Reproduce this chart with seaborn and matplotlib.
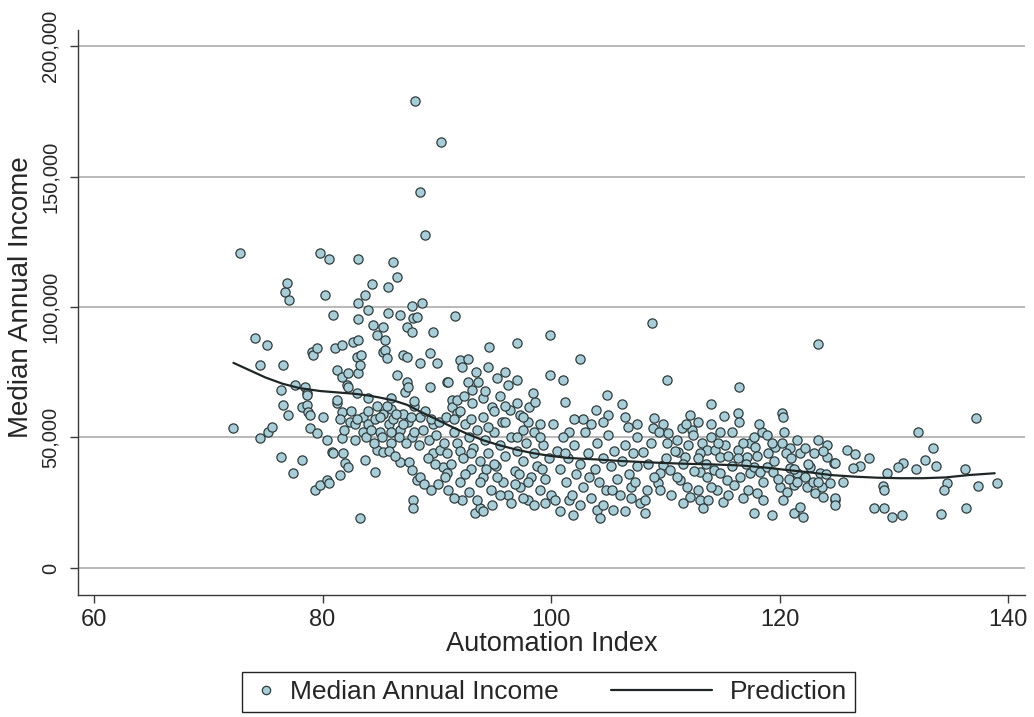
import matplotlib
matplotlib.use("Agg")
import matplotlib.pyplot as plt
from matplotlib.lines import Line2D
from matplotlib.legend_handler import HandlerLine2D
from matplotlib.ticker import FuncFormatter
import pandas as pd
import seaborn as sns

# automation index and median annual income (in $1,000), by x band
idx_72_81 = [72.2, 72.8, 74.1, 74.5, 74.5, 75.1, 75.2, 75.6, 76.4, 76.4,
             76.5, 76.5, 76.7, 76.9, 77.1, 77.0, 77.4, 77.6, 78.2, 78.2,
             78.5, 78.6, 78.6, 78.6, 78.7, 78.9, 78.9, 79.1, 79.2, 79.3,
             79.5, 79.5, 79.8, 79.8, 80.0, 80.2, 80.4, 80.4, 80.6, 80.6,
             80.8, 80.9, 80.9]
inc_72_81 = [53.7, 120.8, 88.2, 77.8, 49.8, 85.5, 52.1, 54.1, 42.6, 68.3,
             77.8, 62.5, 105.8, 109.3, 102.8, 58.7, 36.4, 70.2, 61.7, 41.4,
             69.4, 67.1, 66.3, 62.5, 59.8, 58.7, 53.7, 82.8, 81.7, 29.9,
             84.4, 51.8, 120.8, 31.8, 57.9, 104.7, 49.1, 33.7, 118.5, 32.6,
             44.5, 97.0, 44.1]

idx_81_91 = [81.1, 81.3, 81.3, 81.3, 81.5, 81.7, 81.7, 81.7, 81.7, 81.8,
             82.0, 82.1, 82.2, 82.2, 82.2, 82.4, 82.7, 82.8, 82.8, 83.0,
             83.1, 83.1, 83.1, 83.1, 83.1, 83.3, 83.3, 83.4, 83.5, 83.5,
             83.7, 83.7, 84.0, 84.0, 84.0, 84.3, 84.4, 84.6, 84.6, 84.8,
             84.8, 84.8, 85.0, 85.3, 85.3, 85.3, 85.3, 85.5, 85.5, 85.6,
             85.7, 85.7, 85.8, 86.0, 86.0, 86.2, 86.2, 86.5, 86.5, 86.8,
             86.8, 86.8, 87.0, 87.0, 87.2, 87.4, 87.4, 87.4, 87.5, 87.5,
             87.6, 87.8, 87.8, 87.8, 87.8, 87.9, 87.9, 87.9, 88.0, 88.1,
             88.3, 88.3, 88.5, 88.5, 88.5, 88.5, 88.7, 89.0, 89.4, 89.4,
             89.7, 89.7, 89.7, 90.0, 90.3, 90.4, 90.5, 90.9, 90.9, 90.9,
             82.5, 83.0, 83.8, 84.2, 84.5, 85.0, 85.2, 85.6, 86.0, 86.4,
             86.7, 87.0, 87.3, 87.7, 88.0, 88.4, 88.8, 89.0, 89.3, 89.5,
             89.9, 90.2, 90.6, 84.0, 86.0, 88.0, 83.0, 81.9, 81.5, 85.8,
             86.3, 89.2, 89.8, 88.9, 89.5, 90.1, 90.7]
inc_81_91 = [84.4, 75.9, 63.3, 64.4, 35.7, 85.5, 73.2, 59.8, 49.8, 44.1,
             40.3, 70.2, 74.8, 69.4, 38.7, 56.0, 86.7, 49.1, 55.0, 80.9,
             87.4, 118.5, 101.6, 95.5, 74.8, 77.8, 19.2, 81.7, 58.0, 52.0,
             104.7, 41.4, 98.9, 60.0, 55.0, 108.9, 93.2, 36.8, 57.0, 89.3,
             45.2, 62.0, 52.0, 92.4, 82.8, 44.5, 59.0, 87.4, 83.6, 80.5,
             107.7, 97.8, 55.0, 61.0, 48.0, 117.3, 57.0, 111.6, 74.0, 97.0,
             40.6, 53.0, 81.7, 59.0, 67.5, 92.4, 80.9, 71.3, 69.4, 56.0,
             40.6, 100.5, 90.5, 37.6, 50.0, 95.9, 26.1, 23.0, 62.0, 179.0,
             96.2, 33.7, 78.6, 34.9, 58.0, 144.2, 101.6, 127.7, 82.4, 69.4,
             90.5, 44.1, 55.0, 78.6, 45.2, 163.3, 38.7, 71.3, 44.1, 36.4,
             60, 57, 50, 53, 48, 58, 50, 62, 52, 59,
             50, 55, 48, 58, 52, 47, 53, 60, 49, 57,
             51, 56, 48, 65, 65, 64, 67, 53, 57, 45,
             43, 42, 40, 32, 30, 32, 35]

idx_91_100 = [91.0, 91.3, 91.3, 91.6, 91.8, 91.8, 92.0, 92.2, 92.7, 92.7,
              93.1, 93.1, 93.6, 94.0, 94.5, 94.6, 94.8, 95.3, 95.7, 96.2,
              96.4, 97.0, 97.0, 97.3, 98.1, 98.6, 99.9, 99.9, 92.2, 93.3,
              93.8, 91.5, 91.8, 92.0, 92.3, 92.5, 92.8, 93.0, 93.2, 93.5,
              93.8, 94.0, 94.2, 94.5, 94.7, 95.0, 95.2, 95.5, 95.8, 96.0,
              96.2, 96.5, 96.8, 97.0, 97.3, 97.5, 97.8, 98.0, 98.2, 98.5,
              98.8, 99.0, 99.3, 99.5, 99.8, 100.0, 91.0, 91.5, 92.0, 92.8,
              93.5, 94.0, 94.8, 95.5, 96.5, 97.5, 98.5, 99.5, 92.5, 93.0,
              94.5, 96.0, 97.5, 98.5, 99.0, 95.0, 96.8, 97.2, 98.0, 99.2,
              91.2, 93.8, 94.3, 95.3, 90.8, 91.5, 92.0, 93.0, 94.0, 95.0,
              96.0, 97.0, 98.0, 99.0, 97.0, 95.5, 93.4, 92.4, 94.2, 96.0,
              97.5, 98.4]
inc_91_100 = [71.3, 64.4, 61.7, 96.6, 64.4, 59.4, 79.8, 77.1, 80.1, 71.3,
              68.3, 63.3, 71.3, 65.2, 77.1, 84.7, 61.7, 72.9, 56.0, 70.2,
              60.6, 86.3, 63.3, 58.7, 61.7, 63.7, 89.3, 74.0, 26.0, 21.0,
              23.0, 52, 48, 45, 42, 55, 50, 38, 46, 53,
              41, 35, 49, 44, 30, 52, 39, 47, 33, 43,
              28, 50, 37, 45, 31, 41, 48, 26, 35, 44,
              39, 30, 47, 34, 42, 28, 30, 27, 33, 29,
              26, 22, 24, 28, 25, 27, 24, 25, 36, 44,
              54, 56, 53, 52, 50, 40, 32, 36, 33, 38,
              40, 33, 38, 35, 58, 57, 60, 57, 58, 60,
              62, 50, 56, 55, 72, 66, 75, 66, 68, 75,
              58, 67]

idx_100_108 = [100.3, 101.6, 101.9, 104.0, 104.3, 105.4, 101.0, 102.5, 101.2, 104.9,
               106.2, 105.0, 101.6, 103.9, 102.8, 104.5, 106.5, 107.5, 100.5, 100.8,
               101.0, 101.3, 101.5, 101.8, 102.0, 102.2, 102.5, 102.8, 103.0, 103.2,
               103.5, 103.8, 104.0, 104.2, 104.5, 104.8, 105.0, 105.2, 105.5, 105.8,
               106.0, 106.2, 106.5, 106.8, 107.0, 107.2, 107.5, 107.8, 100.2, 102.0,
               103.5, 106.7, 107.5, 100.8, 102.5, 104.5, 106.5, 107.0, 101.2, 103.3,
               105.3, 107.3]
inc_100_108 = [26, 26, 20.3, 22.2, 19.2, 22.2, 72.1, 80.1, 63.7, 66.3,
               62.9, 58.7, 52.1, 60.6, 57, 56, 58, 55, 45, 38,
               50, 33, 42, 28, 47, 36, 40, 31, 52, 44,
               27, 38, 48, 33, 42, 30, 51, 39, 45, 34,
               28, 41, 47, 36, 31, 44, 39, 25, 55, 57,
               55, 54, 50, 22, 24, 24, 22, 27, 44, 35,
               30, 33]

idx_108_125 = [108.8, 123.3, 110.1, 116.4, 114.0, 112.1, 115.1, 116.3, 116.4, 120.2,
               120.3, 109.0, 109.8, 108.9, 109.4, 110.2, 111.0, 110.1, 111.4, 112.3,
               112.4, 113.2, 113.6, 113.0, 114.3, 115.2, 116.3, 117.1, 116.3, 117.4,
               117.8, 118.4, 118.9, 119.6, 120.2, 120.9, 121.5, 123.3, 124.1, 122.6,
               123.5, 124.1, 124.7, 108.0, 109.8, 110.4, 109.5, 109.3, 109.5, 108.4,
               108.2, 108.2, 111.3, 111.9, 112.1, 113.0, 113.3, 113.7, 115.0, 114.5,
               113.0, 113.6, 114.2, 114.8, 115.4, 116.0, 116.5, 117.4, 117.7, 118.3,
               118.9, 119.4, 118.0, 118.5, 117.7, 119.3, 120.0, 120.6, 121.2, 120.3,
               121.2, 122.0, 121.8, 122.4, 123.1, 123.8, 124.8, 122.9, 123.7, 120.9,
               121.5, 111.1, 111.7, 114.8, 120.5, 121.0, 121.8, 122.2, 122.5, 123.0,
               123.8, 120.8, 121.5, 122.2, 123.3, 124.0, 119.0, 119.5, 118.0, 117.0,
               118.5, 119.8, 117.2, 116.8, 115.5, 114.0, 115.8, 116.8, 115.8, 117.7,
               118.2, 119.3, 120.4, 121.2, 110.8, 111.5, 112.0, 112.8, 113.5, 114.0,
               114.6, 115.5, 112.5, 111.0, 110.0, 108.7, 108.5, 109.0, 110.5, 111.5,
               112.8, 114.0, 114.8, 112.8, 111.8]
inc_108_125 = [94.0, 85.9, 72.1, 69.4, 62.9, 58.7, 58.3, 59.4, 56.0, 59.4,
               57.9, 57.5, 55.2, 53.7, 52.1, 51.8, 49.1, 47.9, 53.7, 52.9,
               51.0, 47.9, 45.2, 44.1, 45.2, 47.2, 45.2, 42.6, 42.2, 47.9,
               46.4, 52.1, 51.0, 46.4, 47.9, 46.0, 49.1, 49.1, 47.2, 38.7,
               36.4, 42.6, 40.3, 44.5, 39.5, 37.6, 36.4, 32.6, 29.9, 29.9,
               26.1, 21.1, 33.7, 31.0, 27.2, 26.1, 23.0, 26.1, 25.3, 29.9,
               36.8, 34.9, 37.6, 36.4, 33.7, 31.8, 34.9, 36.4, 38.7, 36.8,
               38.7, 36.8, 28.8, 26.1, 21.1, 20.3, 31.0, 29.1, 31.8, 26.1,
               21.1, 19.6, 23.4, 31.0, 28.8, 27.2, 26.1, 33.0, 31.0, 38.3,
               36.4, 44.5, 42.6, 42.6, 44, 42, 44, 46, 40, 44,
               45, 34, 33, 35, 33, 36, 44, 41, 43, 40,
               33, 34, 30, 27, 28, 31, 39, 48, 52, 50,
               55, 48, 52, 38, 45, 40, 47, 42, 40, 50,
               48, 43, 37, 35, 42, 48, 40, 35, 28, 25,
               30, 55, 52, 56, 55]

idx_125_140 = [137.2, 132.1, 133.4, 125.9, 126.6, 127.8, 127.0, 126.4, 124.8, 130.8,
               130.3, 132.7, 131.9, 133.7, 136.2, 129.4, 125.5, 124.4, 129.0, 129.1,
               134.6, 134.4, 137.3, 139.0, 124.8, 124.8, 128.2, 129.1, 129.8, 130.7,
               134.1, 136.3]
inc_125_140 = [57.5, 52.1, 46.0, 45.2, 43.7, 42.2, 39.1, 38.3, 40.3, 40.3,
               38.7, 41.4, 38.0, 39.1, 38.0, 36.4, 33.0, 32.6, 31.4, 29.9,
               32.6, 29.9, 31.4, 32.6, 26.8, 24.2, 23.0, 23.0, 19.6, 20.3,
               20.7, 23.0]

# smoothed prediction line
pred_idx = [72.2, 73.5, 75.0, 76.5, 78.0, 79.8, 81.2, 82.7, 84.0, 85.0,
            86.2, 87.4, 88.5, 89.7, 91.1, 92.6, 94.0, 95.5, 97.0, 98.4,
            100.0, 101.4, 103.0, 104.3, 106.0, 108.0, 110.0, 112.0, 114.0, 116.5,
            118.5, 120.5, 122.5, 124.5, 126.5, 128.5, 130.5, 132.5, 134.5, 136.5,
            138.8]
pred_inc = [78.6, 76.0, 73.0, 70.6, 68.9, 67.8, 67.3, 66.8, 66.1, 65.3,
            64.2, 62.5, 60.0, 57.5, 54.5, 51.5, 49.0, 47.0, 45.3, 44.0,
            42.9, 42.2, 41.8, 41.5, 41.0, 40.6, 40.2, 39.9, 39.7, 39.3,
            38.6, 37.6, 36.7, 35.6, 35.0, 34.6, 34.4, 34.4, 34.7, 35.6,
            36.3]

pts = pd.DataFrame({
    "idx": idx_72_81 + idx_81_91 + idx_91_100 + idx_100_108 + idx_108_125 + idx_125_140,
    "inc": inc_72_81 + inc_81_91 + inc_91_100 + inc_100_108 + inc_108_125 + inc_125_140,
})
pts["inc"] = pts["inc"] * 1000
pred = pd.DataFrame({"idx": pred_idx, "inc": [v * 1000 for v in pred_inc]})

sns.set_style("white")
plt.rcParams["font.family"] = ["Liberation Sans", "DejaVu Sans"]

FILL = "#a9cdd6"
EDGE = "#2e3c3e"
LINE = "#1e2626"
AX = "#3a3a3a"

fig = plt.figure(figsize=(10.34, 7.17), dpi=100)
ax = fig.add_axes([0.0754, 0.1702, 0.9159, 0.7878])

sns.scatterplot(data=pts, x="idx", y="inc", ax=ax, s=44, color=FILL,
                edgecolor=EDGE, linewidth=0.9, legend=False, zorder=3)
sns.lineplot(data=pred, x="idx", y="inc", ax=ax, color=LINE, linewidth=1.6,
             zorder=4, legend=False)

ax.set_xlim(58.6, 141.45)
ax.set_ylim(-10340, 206100)
ax.set_xticks([60, 80, 100, 120, 140])
ax.set_yticks([0, 50000, 100000, 150000, 200000])
ax.yaxis.set_major_formatter(FuncFormatter(lambda v, p: f"{v:,.0f}"))
ax.yaxis.grid(True, color="#b3b3b3", linewidth=1.3, zorder=0)
ax.set_axisbelow(True)

for s in ["top", "right"]:
    ax.spines[s].set_visible(False)
for s in ["left", "bottom"]:
    ax.spines[s].set_color(AX)
    ax.spines[s].set_linewidth(1.0)

ax.tick_params(axis="x", direction="out", length=6, width=1, color=AX,
               labelsize=17, pad=4, bottom=True)
ax.tick_params(axis="y", direction="out", length=6, width=1, color=AX,
               labelsize=14.5, pad=7, left=True, labelrotation=90)
plt.setp(ax.get_yticklabels(), va="center")

ax.set_xlabel("Automation Index", fontsize=19.6, labelpad=0)
ax.set_ylabel("Median Annual Income", fontsize=20, labelpad=7)
ax.yaxis.set_label_coords(-0.046, 0.527)


class WideLine(HandlerLine2D):
    # legend line that reaches back into the column gap
    def __init__(self, extra, shrink, **kw):
        super().__init__(**kw)
        self.extra = extra
        self.shrink = shrink

    def get_xdata(self, legend, xdescent, ydescent, width, height, fontsize):
        xdata, xm = super().get_xdata(legend, xdescent, ydescent, width, height, fontsize)
        return [xdata[0] - self.extra, xdata[-1] - self.shrink], xm


dot = Line2D([], [], linestyle="none", marker="o", markersize=6.0,
             markerfacecolor=FILL, markeredgecolor=EDGE, markeredgewidth=0.9)
ln = Line2D([], [], color=LINE, linewidth=1.6)
fig.legend([dot, ln], ["Median Annual Income", "Prediction"],
           handler_map={ln: WideLine(57, 7)},
           loc="lower center", bbox_to_anchor=(0.5305, 0.007), ncol=2,
           fontsize=19, frameon=True, fancybox=False, edgecolor="#222222",
           framealpha=1, borderpad=0.3, handlelength=1.2, handletextpad=0.3,
           columnspacing=5.0, borderaxespad=0)

fig.savefig("out.png", dpi=100)
